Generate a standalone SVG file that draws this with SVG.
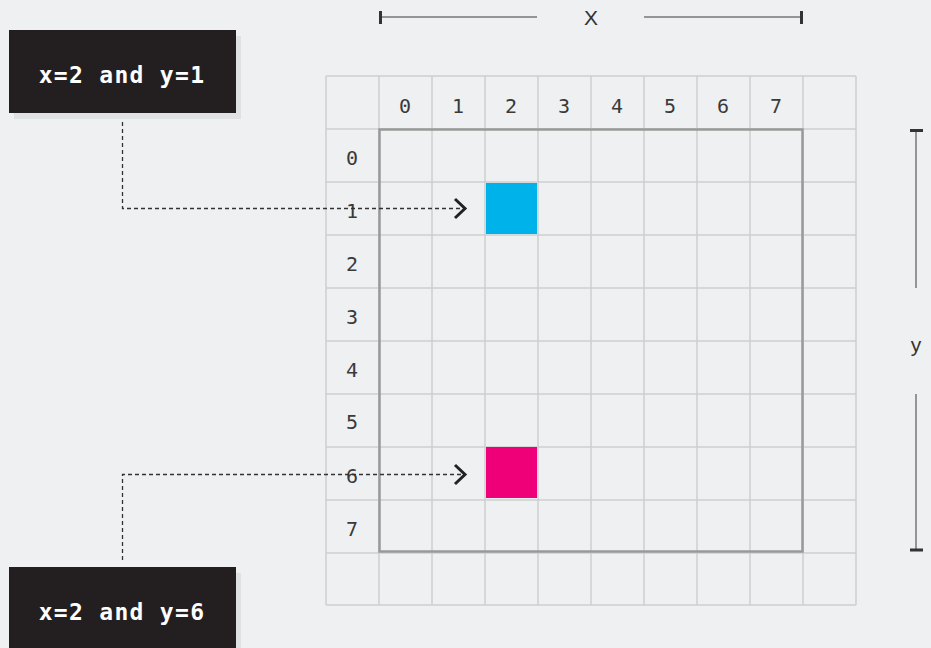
<svg xmlns="http://www.w3.org/2000/svg" width="931" height="648" viewBox="0 0 931 648">
<style>
.g{stroke:#cdcecf;stroke-width:1.5;fill:none}
.n{font-family:"DejaVu Sans Mono",monospace;font-size:20px;fill:#3a3a3a;text-anchor:middle;dominant-baseline:central}
.lbl{font-family:"DejaVu Sans Mono",monospace;font-size:23px;font-weight:bold;fill:#fff;letter-spacing:1.3px;text-anchor:middle;dominant-baseline:central}
.box{fill:#231f20}
.sh{fill:#e0e1e3}
.dash{stroke:#333;stroke-width:1.3;stroke-dasharray:4 3;fill:none}
.chev{stroke:#222;stroke-width:3;fill:none}
.ax{stroke:#777;stroke-width:1.5}
.tick{stroke:#333;stroke-width:3}
.axl{font-family:"Liberation Sans",sans-serif;font-size:21px;fill:#333;text-anchor:middle;dominant-baseline:central}
</style>
<rect width="931" height="648" fill="#eff0f2"/>
<g id="grid">
<path class="g" d="M326,76V605M379,76V605M432,76V605M485,76V605M538,76V605M591,76V605M644,76V605M697,76V605M750,76V605M803,76V605M856,76V605M326,76H856M326,129H856M326,182H856M326,235H856M326,288H856M326,341H856M326,394H856M326,447H856M326,500H856M326,553H856M326,605H856"/>
<rect x="486" y="183" width="51" height="51" fill="#00b2ea"/>
<rect x="486" y="447" width="51" height="51" fill="#ef0078"/>
<rect x="379.5" y="129.5" width="423" height="422" fill="none" stroke="#999" stroke-width="2.5"/>
<g>
<text class="n" x="405" y="106">0</text><text class="n" x="458" y="106">1</text><text class="n" x="511" y="106">2</text><text class="n" x="564" y="106">3</text><text class="n" x="617" y="106">4</text><text class="n" x="670" y="106">5</text><text class="n" x="723" y="106">6</text><text class="n" x="776" y="106">7</text>
<text class="n" x="352" y="158">0</text><text class="n" x="352" y="211">1</text><text class="n" x="352" y="264">2</text><text class="n" x="352" y="317">3</text><text class="n" x="352" y="370">4</text><text class="n" x="352" y="422">5</text><text class="n" x="352" y="476">6</text><text class="n" x="352" y="529">7</text>
</g>
</g>
<g id="axis-x">
<line class="ax" x1="380" y1="17" x2="537" y2="17"/>
<line class="ax" x1="644" y1="17" x2="802" y2="17"/>
<line class="tick" x1="380.5" y1="11" x2="380.5" y2="24"/>
<line class="tick" x1="801.5" y1="11" x2="801.5" y2="24"/>
<text class="axl" x="591" y="17">X</text>
</g>
<g id="axis-y">
<line class="ax" x1="916" y1="130" x2="916" y2="288"/>
<line class="ax" x1="916" y1="394" x2="916" y2="550"/>
<line class="tick" x1="910" y1="130.5" x2="923" y2="130.5"/>
<line class="tick" x1="910" y1="550" x2="923" y2="550"/>
<text class="axl" x="916" y="344">y</text>
</g>
<g id="connectors">
<path class="dash" d="M122.5,122V208.5H462"/>
<polyline class="chev" points="455,199 465,208.5 455,218"/>
<path class="dash" d="M122.5,560V474.5H462"/>
<polyline class="chev" points="455,465 465,474.5 455,484"/>
</g>
<g id="label-top">
<rect class="sh" x="14" y="36" width="227" height="83"/>
<rect class="box" x="9" y="30" width="227" height="83"/>
<text class="lbl" x="122" y="75">x=2 and y=1</text>
</g>
<g id="label-bottom">
<rect class="sh" x="14" y="573" width="227" height="83"/>
<rect class="box" x="9" y="567" width="227" height="83"/>
<text class="lbl" x="122" y="612">x=2 and y=6</text>
</g>
</svg>
